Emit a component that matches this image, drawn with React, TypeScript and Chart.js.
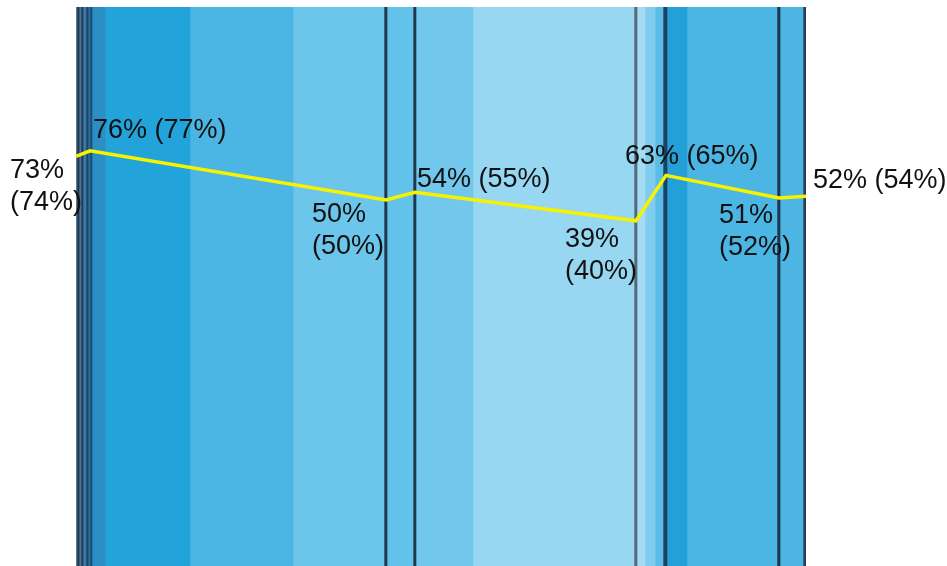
import { useEffect, useRef } from "react";
import { Chart, registerables } from "chart.js";

Chart.register(...registerables);

// Column segments, left to right, in relative width units
const stripeWidths = [
  1, 2, 2, 2, 3, 2, 2,
  2, 13, 85, 103, 91, 2,
  1, 26, 2,
  1, 57, 161, 2,
  1, 8, 10, 8, 3,
  1, 20, 90, 2,
  1, 23, 3,
];
const stripeColors = [
  "#5a7890", "#1b3550", "#4f7592", "#1e3a58", "#3d7aa3", "#1d4466", "#2a6e9c",
  "#1a4d73", "#2b8fc3", "#22a3d9", "#4bb6e4", "#6cc5eb", "#22384f",
  "#22384f", "#63c2ea", "#22384f",
  "#22384f", "#72c7ec", "#98d7f1", "#52697c",
  "#52697c", "#a3dcf3", "#80cdef", "#5abde8", "#1d4163",
  "#1d4163", "#23a0d8", "#4bb6e3", "#1f3650",
  "#1f3650", "#4db5e1", "#2c3e55",
];

// Width of each group of segments; the share line sits on the group edges
const groupWidths = [14, 296, 29, 221, 30, 113, 27];

// Share at each group edge, current and (previous)
const shares = [73, 76, 50, 54, 39, 63, 51, 52];
const priorShares = [74, 77, 50, 55, 40, 65, 52, 54];

const totalWidth = stripeWidths.reduce((a, b) => a + b, 0);

function cumulative(widths: number[]): number[] {
  const out = [0];
  widths.forEach((w) => out.push(out[out.length - 1] + w));
  return out;
}

// Label placement around each line point: offset of the text's left edge and first line centre
const labelPlacement = [
  { dx: -66, dy: 14, wrap: true },
  { dx: 3, dy: -20, wrap: false },
  { dx: -74, dy: 15, wrap: true },
  { dx: 2, dy: -13, wrap: false },
  { dx: -71, dy: 19, wrap: true },
  { dx: -41, dy: -19, wrap: false },
  { dx: -60, dy: 17, wrap: true },
  { dx: 7, dy: -16, wrap: false },
];

const shareLabels = {
  id: "shareLabels",
  afterDatasetsDraw(chart: any) {
    const idx = chart.data.datasets.findIndex((d: any) => d.type === "line");
    const meta = chart.getDatasetMeta(idx);
    const ctx = chart.ctx;
    ctx.save();
    ctx.font = '27px "Liberation Sans", Arial, sans-serif';
    ctx.fillStyle = "#111111";
    ctx.textAlign = "left";
    ctx.textBaseline = "middle";
    meta.data.forEach((pt: any, i: number) => {
      const p = labelPlacement[i];
      const first = `${shares[i]}%`;
      const second = `(${priorShares[i]}%)`;
      const x = pt.x + p.dx;
      const y = pt.y + p.dy;
      if (p.wrap) {
        ctx.fillText(first, x, y);
        ctx.fillText(second, x, y + 32);
      } else {
        ctx.fillText(`${first} ${second}`, x, y);
      }
    });
    ctx.restore();
  },
};

export default function App() {
  const canvasRef = useRef<HTMLCanvasElement | null>(null);

  useEffect(() => {
    if (!canvasRef.current) return;
    const starts = cumulative(stripeWidths);
    const edges = cumulative(groupWidths);

    const stripeSets = stripeWidths.map((w, i) => ({
      type: "bar" as const,
      indexAxis: "y" as const,
      xAxisID: "x",
      yAxisID: "yCat",
      data: [[starts[i], starts[i] + w]],
      backgroundColor: stripeColors[i],
      borderWidth: 0,
      categoryPercentage: 1,
      barPercentage: 1,
      grouped: false,
      order: 2,
    }));

    const chart = new Chart(canvasRef.current, {
      type: "bar",
      data: {
        labels: [""],
        datasets: [
          ...stripeSets,
          {
            type: "line" as const,
            indexAxis: "x" as const,
            xAxisID: "x",
            yAxisID: "yVal",
            data: edges.map((e, i) => ({ x: e, y: shares[i] })),
            borderColor: "#f7f200",
            borderWidth: 3.5,
            pointRadius: 0,
            tension: 0,
            order: 0,
          },
        ] as any,
      },
      options: {
        animation: false,
        responsive: true,
        maintainAspectRatio: false,
        events: [],
        layout: { padding: { left: 68, right: 141, top: 0, bottom: 0 } },
        plugins: { legend: { display: false }, tooltip: { enabled: false } },
        scales: {
          x: { type: "linear", min: 0, max: totalWidth, offset: false, display: false },
          yCat: { type: "category", axis: "y", labels: [""], offset: true, display: false },
          yVal: { type: "linear", axis: "y", min: -143.5, max: 152, offset: false, display: false },
        } as any,
      },
      plugins: [shareLabels],
    });
    return () => chart.destroy();
  }, []);

  return (
    <div style={{ position: "fixed", left: 8, top: 7, width: 939, height: 559 }}>
      <canvas ref={canvasRef} />
    </div>
  );
}
